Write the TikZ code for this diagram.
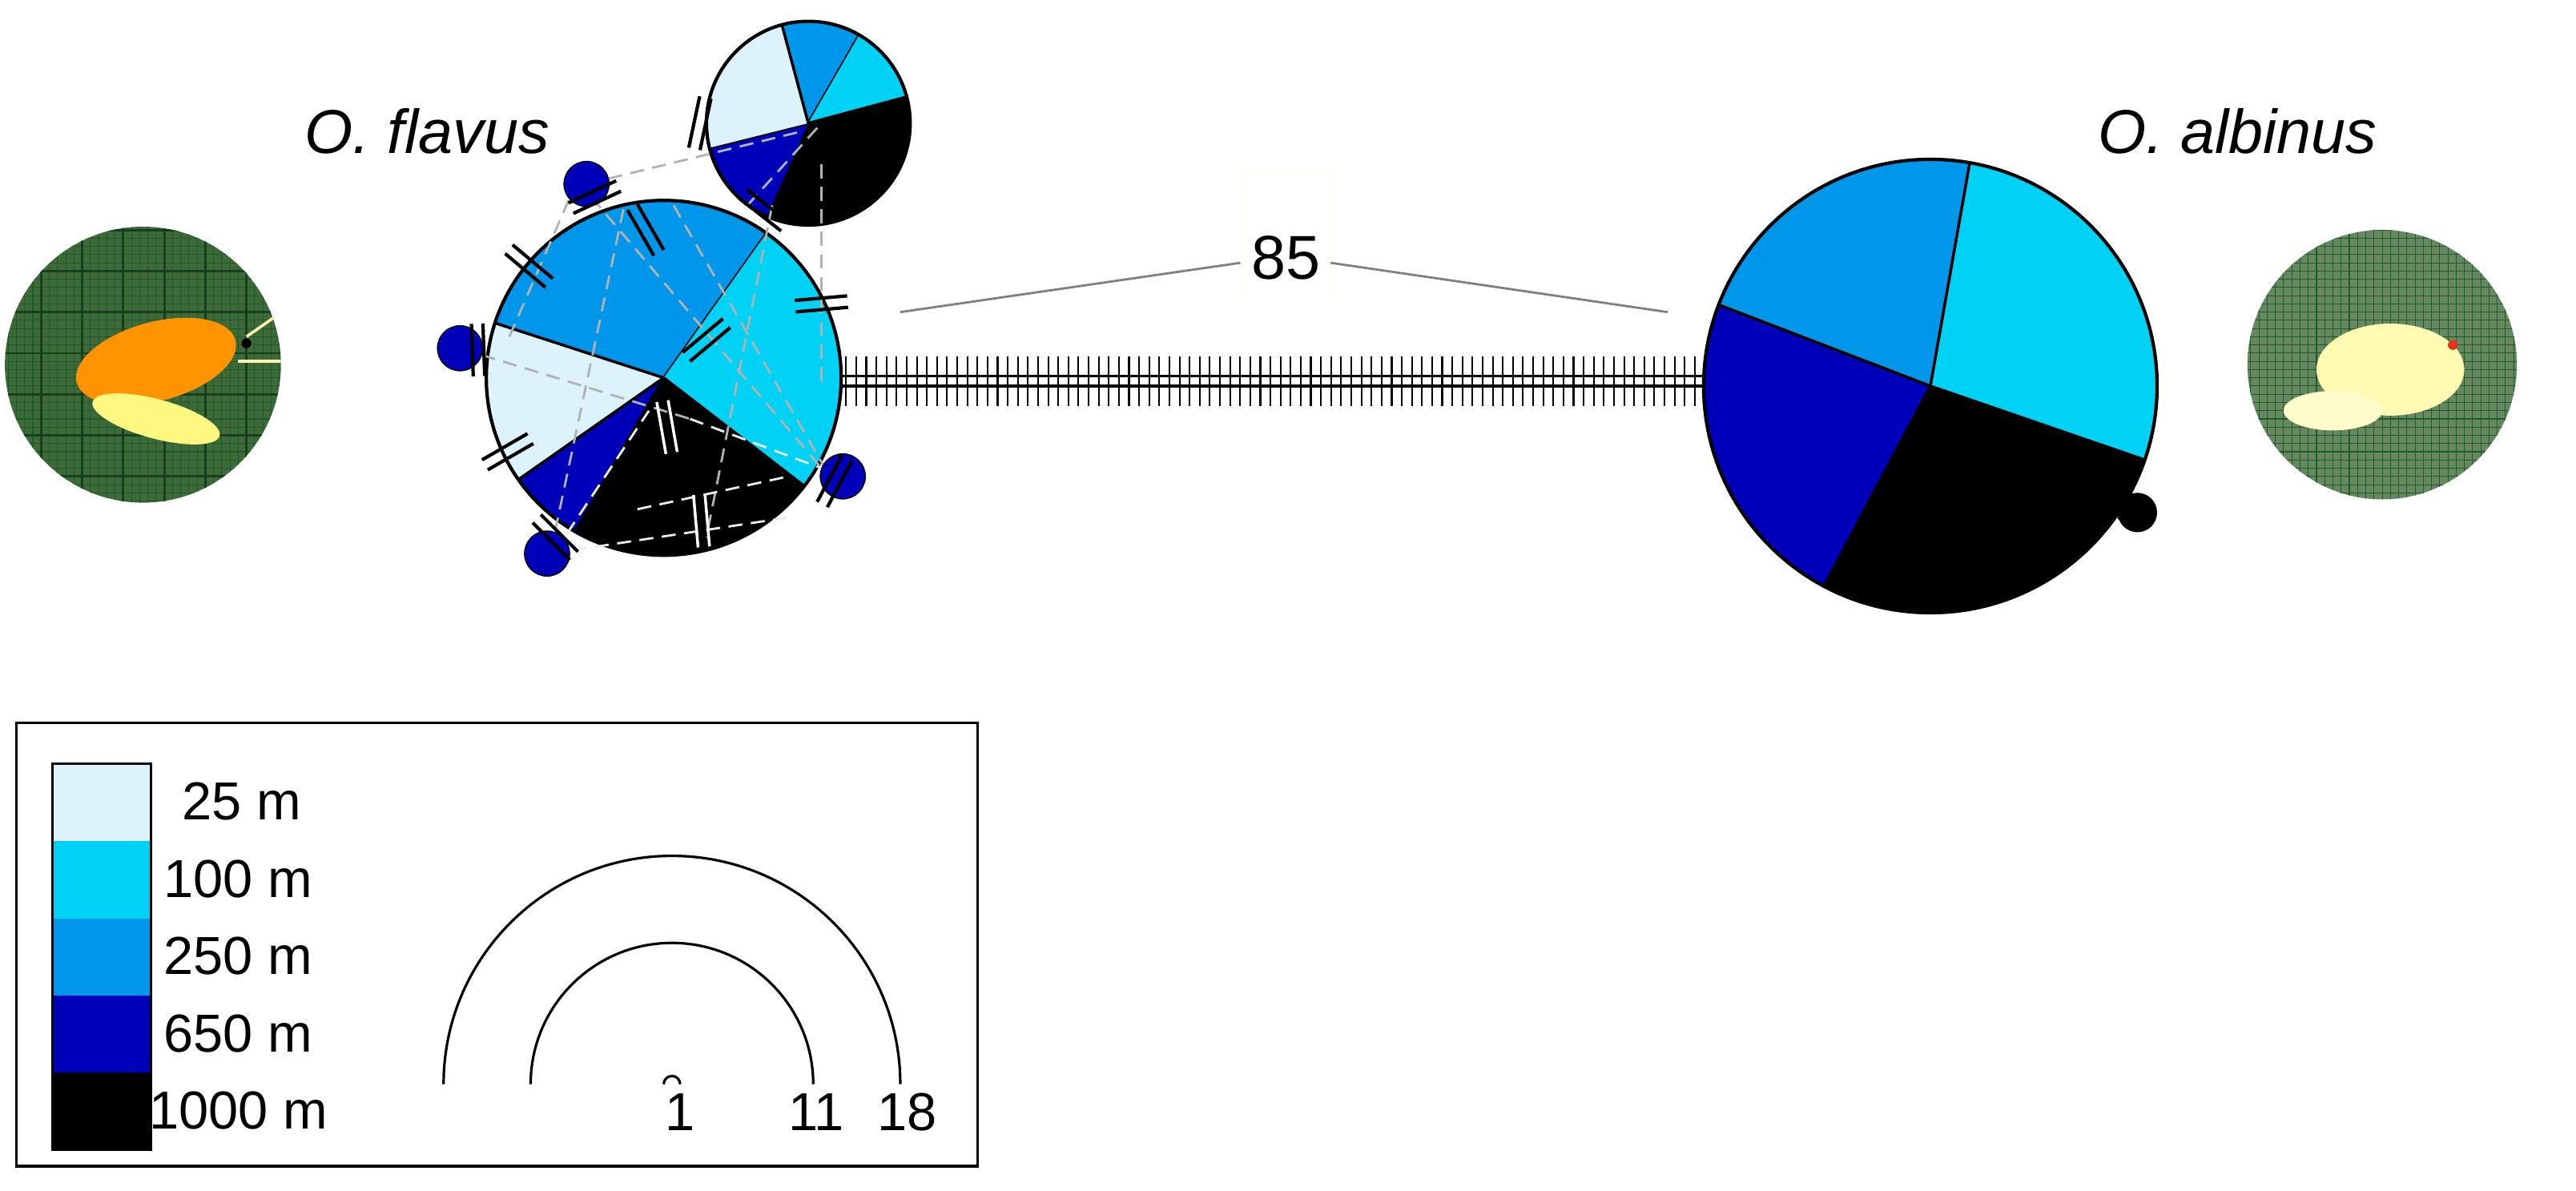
\documentclass[tikz,border=0pt]{standalone}
\usepackage{fontspec}
\setmainfont{Liberation Sans}
\begin{document}
\begin{tikzpicture}[x=0.02051cm,y=0.02051cm]
\definecolor{cA}{HTML}{DDF3FB}
\definecolor{cB}{HTML}{00D2F5}
\definecolor{cC}{HTML}{0096EA}
\definecolor{cD}{HTML}{0000B8}
\definecolor{cE}{HTML}{000000}
\definecolor{grn}{HTML}{3E6A3A}
\definecolor{grnd}{HTML}{1F5A2A}
\tikzset{gd/.style={gray!60,dashed,line width=0.8pt,dash pattern=on 5pt off 3pt},
  wd/.style={white!85!gray,dashed,line width=0.8pt,dash pattern=on 5pt off 3pt},
  tk/.style={black,line width=1.2pt},
  lbl/.style={font=\fontsize{19}{21}\selectfont},
  dotb/.style={circle,fill=cD,draw=black,line width=0.4pt,inner sep=0pt,minimum size=16}}
\useasboundingbox (0,0) rectangle (1568,725);
\newcommand{\slice}[6]{\fill[#6] (#1,#2) -- ++(#4:#3) arc[start angle=#4,end angle=#5,radius=#3] -- cycle;
  \draw[line width=1pt] (#1,#2) -- ++(#4:#3);}
\newcommand{\dbl}[4]{\begin{scope}[shift={(#1,#2)},rotate=#3]
  \draw[#4] (-16,-3.5) -- (16,-3.5); \draw[#4] (-16,3.5) -- (16,3.5);\end{scope}}
% photos
\begin{scope}
\clip (87,503) circle (84);
\fill[grn] (0,410) rectangle (175,600);
\foreach \i in {0,...,36} {\draw[grnd,line width=0.3pt] (\i*5,410) -- (\i*5,600); \draw[grnd,line width=0.3pt] (0,410+\i*5) -- (175,410+\i*5);}
\foreach \i in {0,...,7} {\draw[grnd!70!black,line width=0.8pt] (\i*25,410) -- (\i*25,600); \draw[grnd!70!black,line width=0.8pt] (0,410+\i*25) -- (175,410+\i*25);}
\fill[orange!85!yellow,rotate around={15:(95,505)}] (95,505) ellipse (50 and 24);
\fill[yellow!50!white,rotate around={-15:(95,470)}] (95,470) ellipse (40 and 12);
\draw[yellow!30!white,line width=1pt] (150,520) -- (200,555);
\draw[yellow!30!white,line width=1pt] (145,505) -- (200,505);
\fill[black] (150,516) circle (3);
\end{scope}
\begin{scope}
\clip (1450,503) circle (82);
\fill[grn!80!white] (1360,410) rectangle (1540,600);
\foreach \i in {0,...,36} {\draw[grnd,line width=0.3pt] (1360+\i*5,410) -- (1360+\i*5,600); \draw[grnd,line width=0.3pt] (1360,410+\i*5) -- (1540,410+\i*5);}
\fill[yellow!30!white] (1455,500) ellipse (45 and 28);
\fill[yellow!20!white] (1420,475) ellipse (30 and 12);
\draw[white,line width=2.5pt] (1380,590) arc[start angle=120,end angle=60,radius=140];
\fill[red!60!brown] (1493,515) circle (3);
\end{scope}
\node[font=\fontsize{22}{24}\selectfont\itshape] (tf) at (260,645) {O. flavus};
\node[font=\fontsize{22}{24}\selectfont\itshape] (ta) at (1362,645) {O. albinus};
% hatched connection
\draw[line width=0.9pt] (512,496) -- (1037,496);
\draw[line width=0.9pt] (512,490) -- (1037,490);
\foreach \i in {0,...,84} {\draw[line width=0.6pt] (515+\i*6.15,478) -- (515+\i*6.15,508);}
\draw[yellow!10!white,line width=0.4pt] (758,620) rectangle (810,540);
\draw[gray,line width=0.8pt] (548,535) -- (755,565);
\draw[gray,line width=0.8pt] (810,565) -- (1015,535);
\node[font=\fontsize{22}{24}\selectfont] (n85) at (783,568) {85};
% small pie
\slice{492}{650}{62}{60}{105}{cC}
\slice{492}{650}{62}{15}{60}{cB}
\slice{492}{650}{62}{-114}{15}{cE}
\slice{492}{650}{62}{194}{246}{cD}
\slice{492}{650}{62}{105}{194}{cA}
\draw[line width=1.2pt] (492,650) circle (62);
% big left pie
\slice{404}{495}{108}{54.6}{162}{cC}
\slice{404}{495}{108}{162}{215}{cA}
\slice{404}{495}{108}{215}{240}{cD}
\slice{404}{495}{108}{240}{322.4}{cE}
\slice{404}{495}{108}{-37.6}{54.6}{cB}
\draw[line width=1.2pt] (404,495) circle (108);
% right pie
\slice{1175}{490}{138}{-19}{80}{cB}
\slice{1175}{490}{138}{80}{159}{cC}
\slice{1175}{490}{138}{159}{242}{cD}
\slice{1175}{490}{138}{242}{341}{cE}
\draw[line width=1.2pt] (1175,490) circle (138);
% dashed internal lines
\draw[gd] (357,613) -- (488,645);
\draw[gd] (470,600) -- (430,398);
\draw[gd] (280,513) -- (420,470);
\draw[gd] (500,625) -- (500,490);
\draw[gd] (360,605) -- (500,440);
\draw[wd] (388,415) -- (480,435);
\draw[wd] (420,470) -- (500,440);
\draw[gd] (335,388) -- (380,600);
\draw[wd] (345,400) -- (395,475);
\draw[gd] (310,520) -- (350,612);
\draw[wd] (335,388) -- (480,410);
\draw[gd] (410,600) -- (505,435);
\draw[gd] (455,600) -- (500,650);
% blue dots
\node[dotb] (d1) at (357,613) {};
\node[dotb] (d2) at (280,513) {};
\node[dotb] (d3) at (333,388) {};
\node[dotb] (d4) at (513,435) {};
\node[circle,fill=black,inner sep=0pt,minimum size=14] (d5) at (1301,413) {};
% tick marks
\dbl{426}{650}{78}{tk}
\dbl{465}{597}{-38}{tk}
\dbl{362}{605}{25}{tk}
\dbl{393}{585}{-60}{tk}
\dbl{322}{563}{-40}{tk}
\dbl{291}{512}{92}{tk}
\dbl{309}{450}{30}{tk}
\dbl{338}{398}{-45}{tk}
\dbl{500}{540}{5}{tk}
\dbl{430}{518}{40}{tk}
\dbl{508}{432}{62}{tk}
\dbl{1292}{425}{70}{tk}
\dbl{427}{408}{95}{white,line width=1pt}
\dbl{406}{465}{100}{white,line width=1pt}
% legend
\draw[line width=1pt] (10,15) rectangle (595,285);
\fill[cA] (32,213) rectangle (92,260);
\fill[cB] (32,166) rectangle (92,213);
\fill[cC] (32,119) rectangle (92,166);
\fill[cD] (32,72) rectangle (92,119);
\fill[cE] (32,25) rectangle (92,72);
\draw[line width=0.8pt] (32,25) rectangle (92,260);
\node[lbl] (l1) at (147,237) {25 m};
\node[lbl] (l2) at (145,190) {100 m};
\node[lbl] (l3) at (145,143) {250 m};
\node[lbl] (l4) at (145,96) {650 m};
\node[lbl] (l5) at (145,49) {1000 m};
\draw[line width=0.9pt] (270,65) arc[start angle=180,end angle=0,radius=139];
\draw[line width=0.9pt] (323,65) arc[start angle=180,end angle=0,radius=86];
\draw[line width=0.9pt] (404,65) arc[start angle=180,end angle=0,radius=5];
\node[lbl] (s1) at (414,48) {1};
\node[lbl] (s2) at (497,48) {11};
\node[lbl] (s3) at (552,48) {18};
\end{tikzpicture}
\end{document}
